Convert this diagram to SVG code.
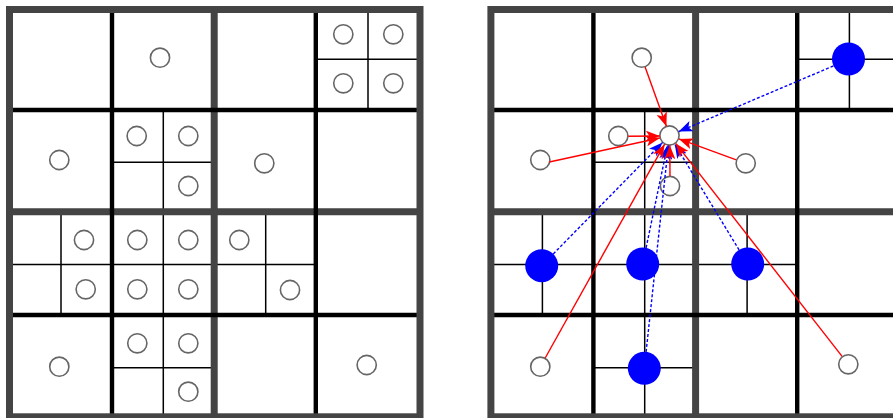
<svg xmlns="http://www.w3.org/2000/svg" width="893" height="418" viewBox="0 0 893 418">
  <style>
    .thin { stroke: #000; stroke-width: 1.5; fill: none; }
    .black { stroke: #000; stroke-width: 4.4; fill: none; }
    .gray { stroke: #444; stroke-width: 7; fill: none; }
    .pt { fill: #fff; stroke: #666; stroke-width: 1.6; }
    .blue { fill: #0000ff; stroke: none; }
    .red-arrow { stroke: #ff0000; stroke-width: 1.4; fill: none; marker-end: url(#headRed); }
    .blue-arrow { stroke: #0000ff; stroke-width: 1.4; fill: none; stroke-dasharray: 3 2; marker-end: url(#headBlue); }
  </style>
  <defs>
    <marker id="headRed" markerUnits="userSpaceOnUse" markerWidth="14" markerHeight="11" refX="14" refY="5.5" orient="auto">
      <path d="M0,0 L14,5.5 L0,11 L3.5,5.5 z" fill="#ff0000"/>
    </marker>
    <marker id="headBlue" markerUnits="userSpaceOnUse" markerWidth="14" markerHeight="11" refX="14" refY="5.5" orient="auto">
      <path d="M0,0 L14,5.5 L0,11 L3.5,5.5 z" fill="#0000ff"/>
    </marker>
    <g id="grid">
      <rect x="9.5" y="9.5" width="410.5" height="407.3" fill="#fff"/>
      <path class="thin" d="M368,9.5 V110 M315.8,59.3 H420 M163.3,110 V416.8 M112,162.3 H214.2 M61,211.8 V315 M9.5,264.5 H315.8 M265.7,211.8 V315 M112,367.7 H214.2"/>
      <path class="gray" d="M214.2,9.5 V416.8 M9.5,211.8 H420"/>
      <path class="black" d="M112,9.5 V416.8 M315.8,9.5 V416.8 M9.5,110 H420 M9.5,315 H420"/>
      <rect class="gray" x="9.5" y="9.5" width="410.5" height="407.3"/>
    </g>
  </defs>

  <rect x="0" y="0" width="893" height="418" fill="#fff"/>

  <g id="grid-left"><use href="#grid"/></g>
  <g id="grid-right"><use href="#grid" x="481.4"/></g>

  <g id="left-points">
    <g id="L1"><circle class="pt" cx="160" cy="57.7" r="9.6"/></g>
    <g id="L2"><circle class="pt" cx="136.7" cy="136" r="9.6"/></g>
    <g id="L3"><circle class="pt" cx="188.3" cy="136" r="9.6"/></g>
    <g id="L4"><circle class="pt" cx="59.3" cy="160" r="9.6"/></g>
    <g id="L5"><circle class="pt" cx="188.3" cy="186" r="9.6"/></g>
    <g id="L6"><circle class="pt" cx="343.3" cy="34.3" r="9.6"/></g>
    <g id="L7"><circle class="pt" cx="393.3" cy="34.3" r="9.6"/></g>
    <g id="L8"><circle class="pt" cx="343.3" cy="83.3" r="9.6"/></g>
    <g id="L9"><circle class="pt" cx="393.3" cy="83.3" r="9.6"/></g>
    <g id="L10"><circle class="pt" cx="264.3" cy="163.3" r="9.6"/></g>
    <g id="L11"><circle class="pt" cx="84" cy="240" r="9.6"/></g>
    <g id="L12"><circle class="pt" cx="137.3" cy="240" r="9.6"/></g>
    <g id="L13"><circle class="pt" cx="188.3" cy="240" r="9.6"/></g>
    <g id="L14"><circle class="pt" cx="85.7" cy="289.3" r="9.6"/></g>
    <g id="L15"><circle class="pt" cx="137.3" cy="289.3" r="9.6"/></g>
    <g id="L16"><circle class="pt" cx="188.3" cy="289.3" r="9.6"/></g>
    <g id="L17"><circle class="pt" cx="137.3" cy="343.3" r="9.6"/></g>
    <g id="L18"><circle class="pt" cx="188.3" cy="343.3" r="9.6"/></g>
    <g id="L19"><circle class="pt" cx="59.3" cy="366.7" r="9.6"/></g>
    <g id="L20"><circle class="pt" cx="188.3" cy="391.7" r="9.6"/></g>
    <g id="L21"><circle class="pt" cx="239.3" cy="240" r="9.6"/></g>
    <g id="L22"><circle class="pt" cx="290" cy="290" r="9.6"/></g>
    <g id="L23"><circle class="pt" cx="366.7" cy="365" r="9.6"/></g>
  </g>

  <g id="right-points">
    <g id="R-a"><circle class="pt" cx="641.7" cy="57.7" r="9.6"/></g>
    <g id="R-b"><circle class="pt" cx="618.3" cy="136" r="9.6"/></g>
    <g id="R-target"><circle class="pt" cx="669.5" cy="135.5" r="9.6"/></g>
    <g id="R-c"><circle class="pt" cx="540.3" cy="160" r="9.6"/></g>
    <g id="R-d"><circle class="pt" cx="670" cy="186" r="9.6"/></g>
    <g id="R-e"><circle class="pt" cx="745.7" cy="163.3" r="9.6"/></g>
    <g id="R-f"><circle class="pt" cx="540.3" cy="366.7" r="9.6"/></g>
    <g id="R-g"><circle class="pt" cx="848.3" cy="364.3" r="9.6"/></g>
    <g id="B-h"><circle class="blue" cx="848.5" cy="59" r="16.5"/></g>
    <g id="B-i"><circle class="blue" cx="541.7" cy="265.7" r="16.5"/></g>
    <g id="B-j"><circle class="blue" cx="642.7" cy="264" r="16.5"/></g>
    <g id="B-k"><circle class="blue" cx="747.7" cy="264" r="16.5"/></g>
    <g id="B-l"><circle class="blue" cx="644.3" cy="368.3" r="16.5"/></g>
  </g>

  <g id="connectors">
    <line class="blue-arrow" x1="833.3" y1="66" x2="678.7" y2="131.6"/>
    <line class="blue-arrow" x1="553.3" y1="253.9" x2="662.5" y2="142.6"/>
    <line class="blue-arrow" x1="646.1" y1="247.8" x2="667.5" y2="145.3"/>
    <line class="blue-arrow" x1="739.1" y1="249.9" x2="674.7" y2="144.1"/>
    <line class="blue-arrow" x1="646.1" y1="351.9" x2="668.4" y2="145.4"/>
    <line class="red-arrow" x1="645.1" y1="67.1" x2="666.4" y2="126.3"/>
    <line class="red-arrow" x1="628.3" y1="136.3" x2="659.8" y2="136"/>
    <line class="red-arrow" x1="549.3" y1="162" x2="659.8" y2="138"/>
    <line class="red-arrow" x1="670" y1="176" x2="669.8" y2="145.3"/>
    <line class="red-arrow" x1="736.3" y1="159.9" x2="678.9" y2="138.9"/>
    <line class="red-arrow" x1="545.2" y1="358" x2="664.6" y2="144.2"/>
    <line class="red-arrow" x1="842.1" y1="356.4" x2="675.7" y2="143.4"/>
  </g>
</svg>
